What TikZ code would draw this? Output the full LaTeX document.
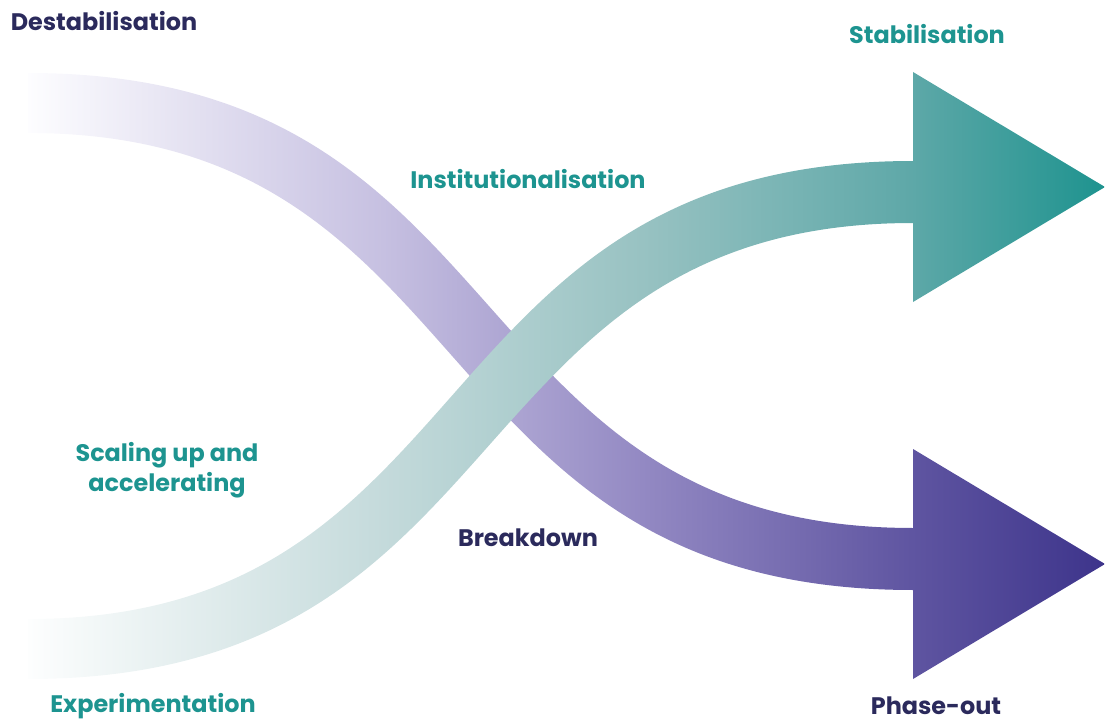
\documentclass[tikz,border=0pt]{standalone}
\usepackage{fontspec}
\setmainfont{Poppins}
\definecolor{navytext}{HTML}{2B2A5C}
\definecolor{tealtext}{HTML}{1D9490}
\definecolor{pu0}{HTML}{FDFDFF}
\definecolor{pu1}{HTML}{C6C0E1}
\definecolor{pu2}{HTML}{9389C3}
\definecolor{pu3}{HTML}{5F55A1}
\definecolor{pu4}{HTML}{3D348B}
\definecolor{te0}{HTML}{FDFEFE}
\definecolor{te1}{HTML}{C4DADB}
\definecolor{te2}{HTML}{98C2C2}
\definecolor{te3}{HTML}{5EA8A8}
\definecolor{te4}{HTML}{1E938F}
\pgfdeclarehorizontalshading{phaseoutflow}{100bp}{color(0bp)=(pu0); color(25bp)=(pu0);
  color(41.5bp)=(pu1); color(53.5bp)=(pu2); color(66bp)=(pu3); color(75bp)=(pu4); color(100bp)=(pu4)}
\pgfdeclarehorizontalshading{stabflow}{100bp}{color(0bp)=(te0); color(25bp)=(te0);
  color(41.5bp)=(te1); color(53.5bp)=(te2); color(66bp)=(te3); color(75bp)=(te4); color(100bp)=(te4)}
\begin{document}
\begin{tikzpicture}[
		x=0.025cm, y=-0.025cm,
		phase/.style={font=\bfseries\fontsize{17}{21.5}\selectfont, inner sep=0, align=center},
		old/.style={phase, text=navytext},
		new/.style={phase, text=tealtext},
	]
	\useasboundingbox (0,0) rectangle (1105,722);
	% regime going down
	\shade[shading=phaseoutflow] (28,73) .. controls (526,73) and (451,528) .. (913,528)
		-- (913,449) -- (1105,564) -- (913,679) -- (913,590)
		.. controls (415,590) and (490,133) .. (28,133) -- cycle;
	% niche going up
	\shade[shading=stabflow] (28,619) .. controls (490,619) and (415,161) .. (913,161)
		-- (913,72) -- (1105,187) -- (913,302) -- (913,223)
		.. controls (451,223) and (526,679) .. (28,679) -- cycle;
	\node[old] (destab) at (104,21) {Destabilisation};
	\node[old] (breakdown) at (528,538) {Breakdown};
	\node[old] (phaseout) at (936,706) {Phase-out};
	\node[new] (stab) at (927,34) {Stabilisation};
	\node[new] (inst) at (528,179) {Institutionalisation};
	\node[new] (scaling) at (167,470) {Scaling up and\\accelerating};
	\node[new] (exper) at (153,706) {Experimentation};
\end{tikzpicture}
\end{document}
